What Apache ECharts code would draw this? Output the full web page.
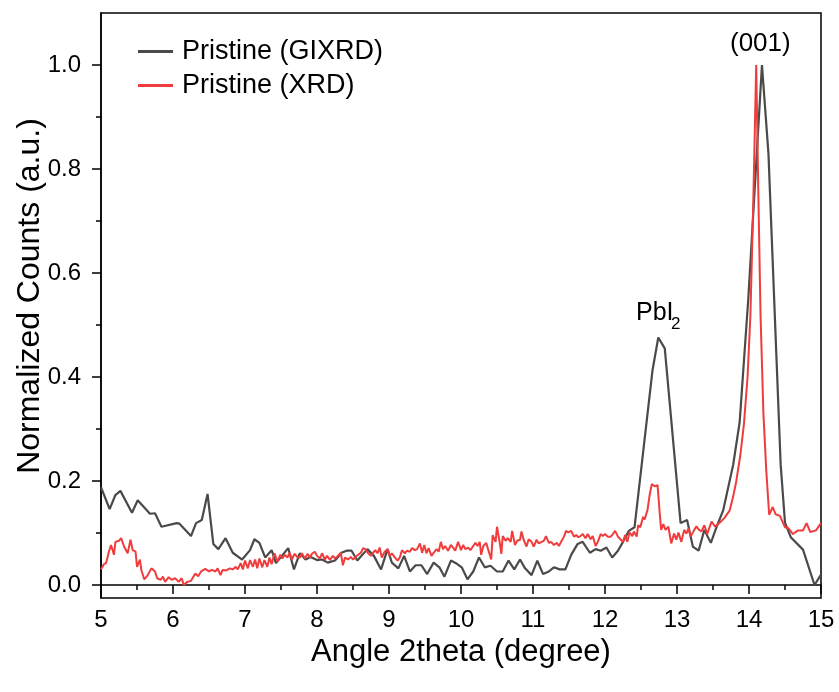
<!DOCTYPE html>
<html>
<head>
<meta charset="utf-8">
<script src="https://cdn.jsdelivr.net/npm/echarts@6/dist/echarts.min.js"></script>
<style>
html,body{margin:0;padding:0;background:#fff;}
#chart{width:839px;height:692px;}
</style>
</head>
<body>
<div id="chart"></div>
<script>
// ---- data ----
const seriesNames = ['Pristine (GIXRD)', 'Pristine (XRD)'];

const gixrdAngle = [5.00,5.12,5.20,5.27,5.43,5.51,5.68,5.75,5.84,6.05,6.09,6.25,6.32,6.40,6.48,6.56,6.63,6.73,6.83,6.96,7.07,7.13,7.20,7.28,7.37,7.43,7.60,7.68,7.76,7.84,7.91,8.00,8.07,8.15,8.25,8.34,8.41,8.48,8.56,8.70,8.79,8.89,8.98,9.04,9.13,9.21,9.29,9.37,9.45,9.53,9.62,9.70,9.77,9.86,9.93,10.01,10.09,10.17,10.25,10.33,10.41,10.50,10.58,10.66,10.74,10.82,10.89,10.98,11.06,11.14,11.22,11.29,11.37,11.45,11.53,11.62,11.69,11.79,11.87,11.94,12.02,12.10,12.18,12.25,12.33,12.41,12.66,12.74,12.83,13.05,13.14,13.22,13.30,13.38,13.47,13.55,13.64,13.78,13.87,13.99,14.18,14.27,14.44,14.50,14.58,14.75,14.91,15.00];
const gixrdCounts = [0.188,0.146,0.173,0.181,0.139,0.163,0.137,0.138,0.112,0.119,0.118,0.094,0.119,0.125,0.175,0.079,0.069,0.090,0.062,0.049,0.067,0.088,0.081,0.053,0.067,0.042,0.071,0.030,0.061,0.049,0.054,0.048,0.049,0.043,0.047,0.062,0.066,0.066,0.047,0.069,0.056,0.030,0.069,0.043,0.032,0.056,0.026,0.038,0.038,0.021,0.043,0.034,0.016,0.047,0.042,0.034,0.011,0.026,0.053,0.034,0.037,0.026,0.026,0.047,0.030,0.049,0.032,0.019,0.047,0.021,0.026,0.034,0.030,0.030,0.058,0.079,0.083,0.062,0.069,0.066,0.072,0.053,0.066,0.083,0.104,0.111,0.413,0.476,0.455,0.119,0.125,0.074,0.066,0.106,0.081,0.112,0.143,0.231,0.313,0.550,1.000,0.830,0.231,0.120,0.092,0.068,0.000,0.020];

const xrdAngle = [5.00,5.04,5.07,5.11,5.14,5.18,5.20,5.25,5.28,5.32,5.37,5.41,5.44,5.48,5.50,5.54,5.56,5.60,5.64,5.70,5.75,5.78,5.83,5.86,5.89,5.94,5.98,6.03,6.08,6.12,6.15,6.20,6.25,6.31,6.35,6.39,6.45,6.50,6.54,6.59,6.62,6.66,6.69,6.74,6.79,6.83,6.87,6.90,6.94,6.97,7.00,7.04,7.07,7.11,7.14,7.17,7.20,7.24,7.27,7.31,7.34,7.37,7.41,7.45,7.49,7.52,7.55,7.59,7.62,7.65,7.69,7.73,7.76,7.79,7.83,7.87,7.90,7.93,7.97,8.00,8.04,8.07,8.11,8.14,8.18,8.22,8.25,8.29,8.33,8.36,8.39,8.43,8.47,8.50,8.53,8.57,8.61,8.64,8.67,8.71,8.75,8.78,8.81,8.84,8.87,8.90,8.94,8.98,9.01,9.04,9.08,9.12,9.15,9.18,9.22,9.25,9.29,9.32,9.36,9.39,9.43,9.46,9.49,9.52,9.55,9.59,9.62,9.66,9.69,9.72,9.75,9.78,9.82,9.86,9.89,9.92,9.96,10.00,10.03,10.06,10.10,10.13,10.17,10.20,10.23,10.26,10.28,10.31,10.35,10.38,10.42,10.44,10.48,10.50,10.54,10.56,10.58,10.62,10.65,10.69,10.71,10.75,10.78,10.82,10.84,10.87,10.91,10.94,10.98,11.01,11.05,11.08,11.12,11.15,11.18,11.22,11.25,11.29,11.33,11.36,11.39,11.43,11.46,11.49,11.53,11.57,11.60,11.63,11.66,11.69,11.73,11.76,11.80,11.83,11.87,11.90,11.94,11.97,12.00,12.04,12.08,12.11,12.14,12.18,12.22,12.25,12.28,12.31,12.34,12.38,12.40,12.44,12.46,12.49,12.53,12.55,12.59,12.62,12.65,12.69,12.73,12.76,12.78,12.81,12.84,12.88,12.92,12.96,12.99,13.02,13.06,13.10,13.13,13.16,13.19,13.24,13.27,13.30,13.34,13.38,13.42,13.48,13.53,13.61,13.66,13.73,13.78,13.82,13.88,13.93,13.98,14.02,14.06,14.10,14.13,14.16,14.20,14.24,14.28,14.33,14.37,14.43,14.50,14.55,14.61,14.68,14.75,14.80,14.85,14.93,15.00];
const xrdCounts = [0.030,0.040,0.042,0.064,0.077,0.058,0.083,0.085,0.090,0.074,0.061,0.087,0.067,0.064,0.035,0.049,0.029,0.011,0.017,0.032,0.026,0.013,0.010,0.016,0.006,0.015,0.010,0.013,0.006,0.013,0.000,0.006,0.008,0.022,0.017,0.026,0.031,0.026,0.029,0.026,0.032,0.019,0.029,0.028,0.032,0.030,0.035,0.030,0.042,0.030,0.047,0.032,0.048,0.035,0.049,0.032,0.051,0.034,0.048,0.035,0.053,0.040,0.061,0.045,0.058,0.051,0.058,0.053,0.062,0.049,0.060,0.053,0.053,0.061,0.051,0.060,0.053,0.060,0.064,0.056,0.051,0.061,0.049,0.056,0.048,0.056,0.051,0.056,0.062,0.038,0.053,0.049,0.054,0.049,0.053,0.058,0.062,0.071,0.069,0.061,0.056,0.062,0.067,0.061,0.072,0.053,0.064,0.069,0.056,0.061,0.053,0.047,0.053,0.067,0.061,0.066,0.064,0.071,0.067,0.069,0.080,0.062,0.077,0.061,0.071,0.056,0.062,0.069,0.064,0.083,0.069,0.075,0.066,0.077,0.072,0.066,0.083,0.067,0.077,0.069,0.072,0.067,0.075,0.081,0.075,0.083,0.058,0.075,0.081,0.067,0.049,0.096,0.083,0.112,0.080,0.060,0.094,0.085,0.090,0.083,0.104,0.077,0.085,0.087,0.103,0.087,0.074,0.088,0.083,0.074,0.087,0.080,0.083,0.085,0.094,0.081,0.083,0.077,0.081,0.075,0.083,0.093,0.104,0.101,0.104,0.093,0.096,0.092,0.094,0.098,0.090,0.098,0.088,0.094,0.075,0.083,0.098,0.094,0.098,0.093,0.093,0.098,0.104,0.093,0.087,0.083,0.096,0.083,0.101,0.094,0.103,0.093,0.115,0.111,0.131,0.126,0.144,0.173,0.194,0.190,0.192,0.138,0.106,0.117,0.106,0.112,0.080,0.099,0.087,0.101,0.083,0.106,0.099,0.109,0.093,0.106,0.113,0.107,0.103,0.115,0.098,0.122,0.112,0.122,0.129,0.143,0.170,0.197,0.250,0.310,0.400,0.520,0.740,1.000,0.750,0.520,0.330,0.220,0.135,0.150,0.136,0.133,0.111,0.109,0.098,0.105,0.105,0.119,0.102,0.105,0.119];

const xTicks = [5,6,7,8,9,10,11,12,13,14,15];
const yTicks = [0.0,0.2,0.4,0.6,0.8,1.0];
const yMinorTicks = [0.1,0.3,0.5,0.7,0.9];
const titles = {x: 'Angle 2theta (degree)', y: 'Normalized Counts (a.u.)'};
const annotations = {peak001: '(001)', pbi: 'PbI', pbiSub: '2'};

// ---- chart ----
const pair = (xs, ys) => xs.map((x, i) => [x, ys[i]]);
const FONT = '"Liberation Sans", Arial, sans-serif';
const chart = echarts.init(document.getElementById('chart'), null, {renderer: 'canvas'});

const yAxisBase = {
  type: 'value', min: -0.025, max: 1.1,
  splitLine: {show: false}
};

chart.setOption({
  animation: false,
  backgroundColor: '#fff',
  grid: {left: 101, right: 18, top: 13, bottom: 94, containLabel: false, outerBoundsMode: 'none',
    show: true, borderColor: '#000', borderWidth: 1.5, backgroundColor: 'transparent'},
  legend: {
    orient: 'vertical', left: 133, top: 33, itemGap: 7,
    icon: 'rect', itemWidth: 35, itemHeight: 3,
    textStyle: {fontFamily: FONT, fontSize: 27, color: '#000', padding: [0,0,0,4]},
    data: seriesNames
  },
  xAxis: {
    type: 'value', min: xTicks[0], max: xTicks[xTicks.length-1], interval: 1,
    name: titles.x, nameLocation: 'middle', nameGap: 36,
    nameTextStyle: {fontFamily: FONT, fontSize: 31, color: '#000'},
    axisLine: {show: true, lineStyle: {color: '#000', width: 1.5}},
    axisTick: {show: true, inside: false, length: 9, lineStyle: {color: '#000', width: 1.5}},
    minorTick: {show: true, splitNumber: 2, length: 5, lineStyle: {color: '#000', width: 1.5}},
    axisLabel: {fontFamily: FONT, fontSize: 24, color: '#000', margin: 10},
    splitLine: {show: false}
  },
  yAxis: [
    Object.assign({}, yAxisBase, {
      axisLine: {show: true, lineStyle: {color: '#000', width: 1.5}},
      axisTick: {show: true, inside: false, length: 9, customValues: yTicks, lineStyle: {color: '#000', width: 1.5}},
      axisLabel: {fontFamily: FONT, fontSize: 24, color: '#000', margin: 20, customValues: yTicks,
        formatter: v => Number(v).toFixed(1)}
    }),
    Object.assign({}, yAxisBase, {
      position: 'left',
      axisLine: {show: false},
      axisTick: {show: true, inside: false, length: 5, customValues: yMinorTicks, lineStyle: {color: '#000', width: 1.5}},
      axisLabel: {show: false}
    })
  ],
  series: [
    {
      name: seriesNames[0], type: 'line', data: pair(gixrdAngle, gixrdCounts),
      showSymbol: false, symbol: 'none', lineStyle: {color: '#4a4a4a', width: 2.2}, itemStyle: {color: '#4a4a4a'}, z: 2
    },
    {
      name: seriesNames[1], type: 'line', data: pair(xrdAngle, xrdCounts),
      showSymbol: false, symbol: 'none', lineStyle: {color: '#f03c3c', width: 2}, itemStyle: {color: '#f03c3c'}, z: 3
    }
  ],
  graphic: [
    {type: 'text', x: 30, y: 296, rotation: Math.PI / 2,
      style: {text: titles.y, font: '32px ' + FONT, fill: '#000', align: 'center', verticalAlign: 'middle'}},
    {type: 'text', left: 730, top: 31, style: {text: annotations.peak001, font: '26px ' + FONT, fill: '#000'}},
    {type: 'text', left: 636, top: 301, style: {text: annotations.pbi, font: '25px ' + FONT, fill: '#000'}},
    {type: 'text', left: 671, top: 316, style: {text: annotations.pbiSub, font: '17px ' + FONT, fill: '#000'}}
  ]
});
</script>
</body>
</html>
